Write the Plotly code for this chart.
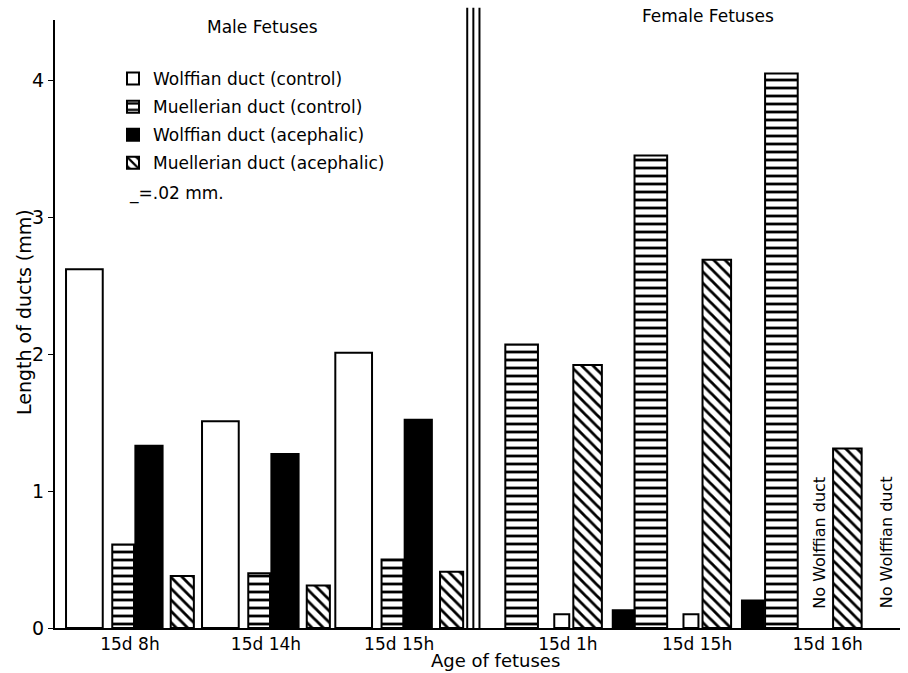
import plotly.graph_objects as go

# ---- data ----
groups = ["15d 8h", "15d 14h", "15d 15h", "15d 1h", "15d 15h", "15d 16h"]
sex = ["male", "male", "male", "female", "female", "female"]
wolffian_control = [2.62, 1.51, 2.01, 0.10, 0.10, None]
muellerian_control = [0.61, 0.40, 0.50, 2.07, 3.45, 4.05]
wolffian_acephalic = [1.33, 1.27, 1.52, 0.13, 0.20, None]
muellerian_acephalic = [0.38, 0.31, 0.41, 1.92, 2.69, 1.31]

# ---- layout constants (group positions on the axis, slot offsets/widths) ----
group_pos = [0.0, 1.0, 1.98, 3.22, 4.17, 5.13]
male_slots = {"wc": (-0.47, 0.27), "mc": (-0.13, 0.16), "wa": (0.04, 0.20), "ma": (0.30, 0.17)}
female_slots = {"mc": (-0.46, 0.24), "wc": (-0.10, 0.11), "ma": (0.04, 0.21), "wa": (0.33, 0.16)}

FONT = "DejaVu Sans"

series = [
    ("wc", "Wolffian duct (control)", wolffian_control, "white", ""),
    ("mc", "Muellerian duct (control)", muellerian_control, "white", "-"),
    ("wa", "Wolffian duct (acephalic)", wolffian_acephalic, "black", ""),
    ("ma", "Muellerian duct (acephalic)", muellerian_acephalic, "white", "\\"),
]

fig = go.Figure()
for key, name, vals, color, shape in series:
    offs = []
    wids = []
    for s in sex:
        o, w = (male_slots if s == "male" else female_slots)[key]
        offs.append(o)
        wids.append(w)
    fig.add_trace(go.Bar(
        x=group_pos, y=vals, name=name, legendgroup=key,
        offset=offs, width=wids,
        marker=dict(
            color=color,
            line=dict(color="black", width=2),
            pattern=dict(shape=shape, fgcolor="black", bgcolor=color,
                         fgopacity=1, fillmode="replace",
                         size=8, solidity=0.35),
        ),
    ))

# divider lines between male and female sections
for xv in [2.48, 2.525, 2.57]:
    fig.add_shape(type="line", xref="x", yref="paper", x0=xv, x1=xv, y0=0, y1=1.02,
                  line=dict(color="black", width=2))

# rotated notes for missing Wolffian ducts
for dx in [-0.06, 0.43]:
    fig.add_annotation(x=group_pos[5] + dx, y=0.13, xref="x", yref="y",
                       text="No Wolffian duct", textangle=-90, showarrow=False,
                       yanchor="bottom", xanchor="center",
                       font=dict(family=FONT, size=16, color="black"))

W, H = 908, 673
ML, MR, MT, MB = 55, 8, 20, 45
pw, ph = W - ML - MR, H - MT - MB


def px(x):
    return (x - ML) / pw


def py(y):
    return 1 - (y - MT) / ph


fig.add_annotation(x=px(262), y=py(27), xref="paper", yref="paper", text="Male Fetuses",
                   showarrow=False, xanchor="center", yanchor="middle",
                   font=dict(family=FONT, size=17, color="black"))
fig.add_annotation(x=px(708), y=py(16), xref="paper", yref="paper", text="Female Fetuses",
                   showarrow=False, xanchor="center", yanchor="middle",
                   font=dict(family=FONT, size=17, color="black"))
fig.add_annotation(x=px(127), y=py(193), xref="paper", yref="paper", text="_=.02 mm.",
                   showarrow=False, xanchor="left", yanchor="middle",
                   font=dict(family=FONT, size=17, color="black"))
fig.add_annotation(x=px(495), y=py(660), xref="paper", yref="paper", text="Age of fetuses",
                   showarrow=False, xanchor="center", yanchor="middle",
                   font=dict(family=FONT, size=18, color="black"))
fig.add_annotation(x=px(24), y=py(312), xref="paper", yref="paper",
                   text="Length of ducts (mm)", textangle=-90,
                   showarrow=False, xanchor="center", yanchor="middle",
                   font=dict(family=FONT, size=19, color="black"))

fig.update_layout(
    width=W, height=H,
    margin=dict(l=ML, r=MR, t=MT, b=MB),
    paper_bgcolor="white", plot_bgcolor="white",
    barmode="overlay",
    font=dict(family=FONT, size=17, color="black"),
    showlegend=True,
    legend=dict(x=px(113), y=py(61), xanchor="left", yanchor="top",
                bgcolor="rgba(0,0,0,0)", font=dict(family=FONT, size=17),
                tracegroupgap=3),
    xaxis=dict(range=[-0.551, 5.662], tickvals=group_pos, ticktext=groups,
               showline=True, linecolor="black", linewidth=2, showgrid=False,
               zeroline=False, ticks="", tickfont=dict(size=17)),
    yaxis=dict(range=[0, 4.44], tickvals=[0, 1, 2, 3, 4],
               showline=True, linecolor="black", linewidth=2, showgrid=False,
               zeroline=False, ticks="outside", ticklen=5, tickcolor="black",
               tickfont=dict(size=19)),
)

fig.write_html("out.html")
